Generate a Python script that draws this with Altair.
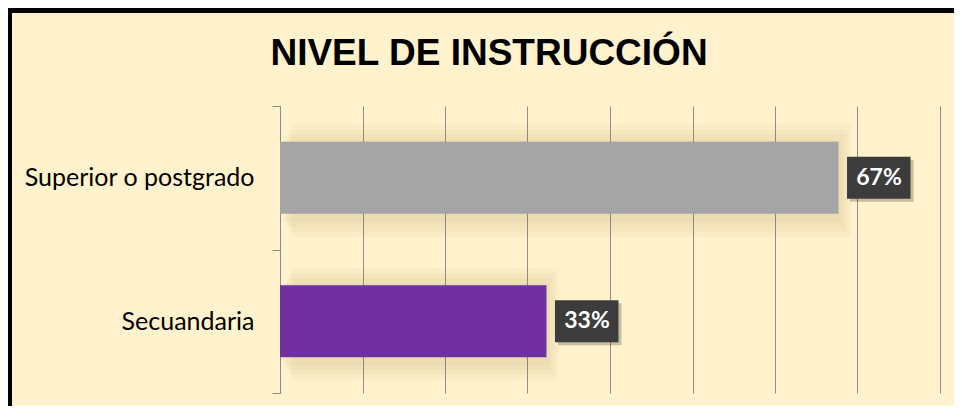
import altair as alt
import pandas as pd

categories = ["Superior o postgrado", "Secuandaria"]
values = [0.677, 0.323]
labels = ["67%", "33%"]
title_text = "NIVEL DE INSTRUCCIÓN"

df = pd.DataFrame({"nivel": categories, "valor": values, "etiqueta": labels})

W, H = 660, 287
BG = "#FFF2CC"

yenc = alt.Y(
    "nivel:N",
    sort=categories,
    scale=alt.Scale(paddingInner=0, paddingOuter=0),
    axis=alt.Axis(
        title=None, tickBand="extent", tickSize=8, tickColor="#8C8C8C",
        domainColor="#8C8C8C", labelFont="Lato", labelFontSize=25,
        labelColor="#000000", labelPadding=18, labelLimit=400, grid=False,
    ),
)
xenc = alt.X(
    "valor:Q",
    scale=alt.Scale(domain=[0, 0.8], nice=False, zero=True),
    axis=alt.Axis(
        title=None, labels=False, ticks=False, domain=False, grid=True,
        values=[0, 0.1, 0.2, 0.3, 0.4, 0.5, 0.6, 0.7, 0.8],
        gridColor="#8F8F8F", gridWidth=1,
    ),
)

base = alt.Chart(df)

shadows = [
    base.mark_bar(color="#8B6A2A", opacity=0.045, xOffset=o, x2Offset=0, yOffset=3).encode(
        x=xenc, y=yenc, size=alt.value(s)
    )
    for s, o in [(82, 3), (92, 6), (102, 9), (112, 12)]
]

bars = base.mark_bar().encode(
    x=xenc,
    y=yenc,
    size=alt.value(72),
    color=alt.Color(
        "nivel:N",
        scale=alt.Scale(domain=categories, range=["#A5A5A5", "#7030A0"]),
        legend=None,
    ),
)

box_shadow = base.mark_bar(
    color="#000000", opacity=0.22, xOffset=11.5, x2Offset=75, yOffset=3
).encode(x="valor:Q", x2="valor:Q", y=yenc, size=alt.value(42))
box = base.mark_bar(color="#3C3C3C", xOffset=8.5, x2Offset=72).encode(
    x="valor:Q", x2="valor:Q", y=yenc, size=alt.value(42)
)
text = base.mark_text(
    font="Lato", fontSize=23, fontWeight="bold", color="#FFFFFF",
    align="center", baseline="middle", dx=40.5,
).encode(x="valor:Q", y=yenc, text="etiqueta:N")

title = alt.Chart(pd.DataFrame({"t": [title_text]})).mark_text(
    font="Liberation Sans", fontSize=37, fontWeight="bold", color="#000000",
    align="center", baseline="alphabetic",
).encode(x=alt.value(209), y=alt.value(-41), text="t:N")

border_top = alt.Chart(pd.DataFrame({"a": [0]})).mark_rule(
    color="#000000", strokeWidth=10
).encode(x=alt.value(-280), x2=alt.value(700), y=alt.value(-98))
border_left = alt.Chart(pd.DataFrame({"a": [0]})).mark_rule(
    color="#000000", strokeWidth=8
).encode(x=alt.value(-272), y=alt.value(-110), y2=alt.value(320))

chart = alt.layer(
    *shadows, bars, box_shadow, box, text, title, border_top, border_left
).properties(
    width=W, height=H,
    autosize=alt.AutoSizeParams(type="none"),
    padding={"left": 272, "top": 98, "right": 14, "bottom": 13},
).configure(background=BG).configure_view(stroke=None)

chart.save("out.html", embed_options={"renderer": "svg", "actions": False})
